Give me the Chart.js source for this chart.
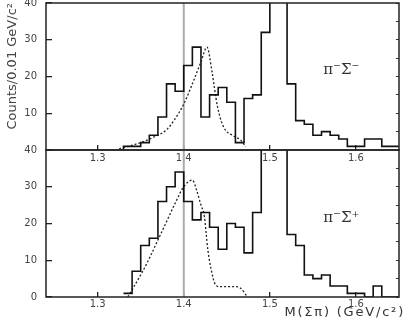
<!DOCTYPE html>
<html>
<head>
<meta charset="utf-8">
<script src="https://cdn.jsdelivr.net/npm/chart.js@4.4.1/dist/chart.umd.min.js"></script>
<style>
  html, body { margin: 0; padding: 0; background: #fff; }
  #wrap { position: relative; width: 409px; height: 320px; overflow: hidden; }
  .panel { position: absolute; left: 0; width: 409px; }
  #panelTop { top: 0; height: 168px; }
  #panelBot { top: 140px; height: 180px; }
</style>
</head>
<body>
<div id="wrap">
  <div class="panel" id="panelTop"><canvas id="chartTop"></canvas></div>
  <div class="panel" id="panelBot"><canvas id="chartBot"></canvas></div>
</div>
<script>
// bin edges, 0.01 GeV/c^2 wide
const binEdges = [1.33, 1.34, 1.35, 1.36, 1.37, 1.38, 1.39, 1.40, 1.41, 1.42, 1.43,
                  1.44, 1.45, 1.46, 1.47, 1.48, 1.49, 1.50, 1.51, 1.52, 1.53, 1.54,
                  1.55, 1.56, 1.57, 1.58, 1.59, 1.60, 1.61, 1.62, 1.63, 1.64, 1.65];

// pi- Sigma- (upper panel), bins above 40 run off the frame
const countsMinus = [0, 1, 1, 2, 4, 9, 18, 16, 23, 28, 9, 15, 17, 13, 2, 14,
                     15, 32, 55, 55, 18, 8, 7, 4, 5, 4, 3, 1, 1, 3, 3, 1];
// pi- Sigma+ (lower panel)
const countsPlus = [1, 1, 7, 14, 16, 26, 30, 34, 26, 21, 23, 19, 13, 20, 19, 12,
                    23, 55, 55, 55, 17, 14, 6, 5, 6, 3, 3, 1, 1, 0, 3, 0];

// dotted fit curves
const fitMinusM = [1.325, 1.335, 1.35, 1.365, 1.38, 1.39, 1.40, 1.41, 1.42, 1.427,
                   1.433, 1.439, 1.446, 1.458, 1.466, 1.472];
const fitMinusN = [0.3, 1, 2, 3.5, 5.5, 8.5, 12.5, 18, 24, 28, 21, 12, 6.4, 3.8, 2.7, 0.9];

const fitPlusM = [1.335, 1.34, 1.35, 1.36, 1.37, 1.38, 1.39, 1.40, 1.41, 1.415, 1.42,
                  1.424, 1.426, 1.428, 1.432, 1.436, 1.442, 1.46, 1.466, 1.474];
const fitPlusN = [0, 2, 6, 10.5, 15.5, 20.5, 25.5, 30, 31.8, 29, 25, 21.8, 17.4, 12.8,
                  7.3, 3.7, 2.8, 2.8, 2.4, 0];

const massTicks = [1.3, 1.4, 1.5, 1.6];
const countTicks = [0, 10, 20, 30, 40];
const sideTicks = [0, 5, 10, 15, 20, 25, 30, 35, 40];
const markerMass = [1.4];

const FONT = "'DejaVu Sans', sans-serif";

function stepPoints(vals) {
  const pts = vals.map((v, i) => ({ x: binEdges[i], y: v }));
  pts.push({ x: binEdges[vals.length], y: vals[vals.length - 1] });
  return pts;
}

// keep chart area fixed: no extra room for overhanging labels
function noOverhang(s) {
  s.paddingTop = 0; s.paddingBottom = 0; s.paddingLeft = 0; s.paddingRight = 0;
}

// box around the plot area
const framePlugin = {
  id: 'frame',
  afterDraw(chart) {
    const { ctx, chartArea: a } = chart;
    ctx.save();
    ctx.strokeStyle = '#222';
    ctx.lineWidth = 1.5;
    ctx.strokeRect(a.left, a.top, a.width, a.height);
    ctx.restore();
  }
};

// pi Sigma tag inside each panel
const tagPlugin = {
  id: 'panelTag',
  afterDatasetsDraw(chart, args, o) {
    const { ctx, scales: { x, y } } = chart;
    ctx.save();
    ctx.font = o.font;
    ctx.fillStyle = '#333';
    ctx.textAlign = 'center';
    ctx.textBaseline = 'middle';
    ctx.fillText(o.text, x.getPixelForValue(o.m), y.getPixelForValue(o.n));
    ctx.restore();
  }
};

// mass axis caption, spaced out like the scanned original
const captionPlugin = {
  id: 'caption',
  afterDraw(chart, args, o) {
    if (!o.text) return;
    const { ctx, chartArea: a } = chart;
    ctx.save();
    ctx.font = o.font;
    ctx.letterSpacing = o.spacing;
    ctx.fillStyle = '#333';
    ctx.textAlign = 'right';
    ctx.textBaseline = 'middle';
    ctx.fillText(o.text, a.right + o.dx, a.bottom + o.dy);
    ctx.restore();
  }
};

function makePanel(id, cfg) {
  return new Chart(document.getElementById(id), {
    type: 'line',
    data: {
      datasets: [
        {
          data: stepPoints(cfg.counts),
          stepped: 'after',
          borderColor: '#111',
          borderWidth: 1.6,
          pointRadius: 0,
          clip: 0,
          order: 1
        },
        {
          data: cfg.fitM.map((m, i) => ({ x: m, y: cfg.fitN[i] })),
          borderColor: '#222',
          borderWidth: 1.3,
          borderDash: [2, 2],
          cubicInterpolationMode: 'monotone',
          pointRadius: 0,
          order: 2
        },
        {
          data: [{ x: markerMass[0], y: countTicks[0] }, { x: markerMass[0], y: countTicks[countTicks.length - 1] }],
          borderColor: '#ababab',
          borderWidth: 2,
          pointRadius: 0,
          order: 3
        }
      ]
    },
    options: {
      responsive: true,
      maintainAspectRatio: false,
      animation: false,
      events: [],
      layout: { padding: { top: cfg.padTop, left: 0, right: 0, bottom: 0 } },
      plugins: {
        legend: { display: false },
        tooltip: { enabled: false },
        panelTag: { text: cfg.tag, m: 1.583, n: cfg.tagN, font: "15px 'DejaVu Serif', serif" },
        caption: { text: cfg.xTitle, font: '13px ' + FONT, spacing: '1.8px', dx: 6, dy: 16 }
      },
      scales: {
        x: {
          type: 'linear',
          min: 1.24,
          max: 1.65,
          afterBuildTicks: s => { s.ticks = massTicks.map(v => ({ value: v })); },
          afterFit: s => { s.height = cfg.xHeight; noOverhang(s); },
          grid: { drawOnChartArea: false, tickLength: -5, color: '#222', lineWidth: 1.3 },
          border: { display: false },
          ticks: {
            padding: cfg.xPad,
            autoSkip: false,
            maxRotation: 0,
            color: '#444',
            font: { family: FONT, size: 10 },
            callback: v => v.toFixed(1)
          }
        },
        y: {
          position: 'left',
          min: 0,
          max: 40,
          afterBuildTicks: s => { s.ticks = countTicks.map(v => ({ value: v })); },
          afterFit: s => { s.width = 46; noOverhang(s); },
          grid: { drawOnChartArea: false, tickLength: -6, color: '#222', lineWidth: 1.3 },
          border: { display: false },
          ticks: {
            padding: 15,
            color: '#444',
            font: { family: FONT, size: 10 },
            callback: v => (cfg.hideZero && v === 0) ? '' : String(v)
          },
          title: {
            display: cfg.yTitle,
            text: 'Counts/0.01 GeV/c²',
            align: 'end',
            color: '#444',
            padding: { top: 5, bottom: 0 },
            font: { family: FONT, size: 13 }
          }
        },
        yR: {
          position: 'right',
          min: 0,
          max: 40,
          afterBuildTicks: s => { s.ticks = sideTicks.map(v => ({ value: v })); },
          afterFit: s => { s.width = 10; noOverhang(s); },
          grid: { drawOnChartArea: false, tickLength: -3, color: '#333' },
          border: { display: false },
          ticks: { display: false }
        }
      }
    },
    plugins: [framePlugin, tagPlugin, captionPlugin]
  });
}

makePanel('chartTop', {
  counts: countsMinus, fitM: fitMinusM, fitN: fitMinusN,
  padTop: 3, xHeight: 18, xPad: 7, xTitle: '', yTitle: true, hideZero: true,
  tag: 'π⁻Σ⁻', tagN: 21.8
});

makePanel('chartBot', {
  counts: countsPlus, fitM: fitPlusM, fitN: fitPlusN,
  padTop: 10, xHeight: 23, xPad: 6, xTitle: 'M(Σπ) (GeV/c²)', yTitle: false, hideZero: false,
  tag: 'π⁻Σ⁺', tagN: 21.5
});
</script>
</body>
</html>
